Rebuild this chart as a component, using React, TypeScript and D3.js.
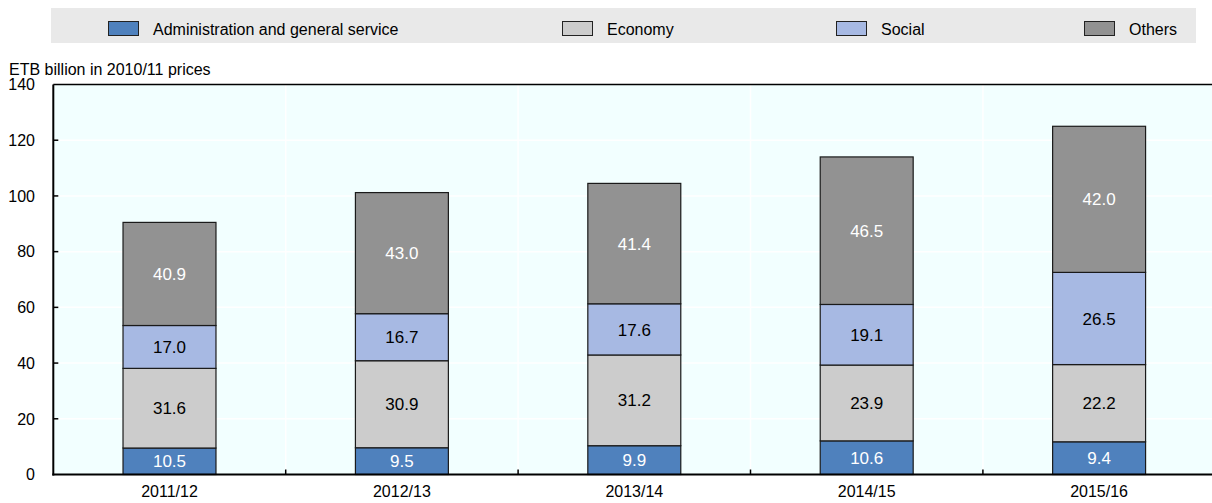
import React from "react";
import { scaleBand, scaleLinear, stack } from "d3";

const categories = ["2011/12", "2012/13", "2013/14", "2014/15", "2015/16"];
// total spending per year (bar height, ETB billion)
const totals = [90.5, 101.2, 104.5, 114.0, 125.0];
// shares (%) shown as labels inside segments
const admin = [10.5, 9.5, 9.9, 10.6, 9.4];
const economy = [31.6, 30.9, 31.2, 23.9, 22.2];
const social = [17.0, 16.7, 17.6, 19.1, 26.5];
const others = [40.9, 43.0, 41.4, 46.5, 42.0];
const yTicks = [0, 20, 40, 60, 80, 100, 120, 140];

const seriesNames = ["Administration and general service", "Economy", "Social", "Others"];
const seriesKeys = ["admin", "economy", "social", "others"];
const colors = ["#4f81bd", "#cccccc", "#a7b9e3", "#929292"];
const labelColors = ["#ffffff", "#000000", "#000000", "#ffffff"];
const legendX = [108, 562, 836, 1084];

const W = 1212;
const H = 503;
const plot = { left: 53.3, right: 1215.3, top: 84.5, bottom: 474.5 };
const font = "'Liberation Sans', Arial, sans-serif";

const shares = [admin, economy, social, others];

const rows = categories.map((c, i) => {
  const sum = shares.reduce((s, arr) => s + arr[i], 0);
  const row: any = { category: c };
  seriesKeys.forEach((k, j) => {
    row[k] = (shares[j][i] / sum) * totals[i];
  });
  return row;
});

export default function App() {
  const x = scaleBand<string>()
    .domain(categories)
    .range([plot.left, plot.right])
    .paddingInner(0.6)
    .paddingOuter(0.3);
  const y = scaleLinear().domain([0, 140]).range([plot.bottom, plot.top]);
  const step = x.step();
  const layers = stack<any>().keys(seriesKeys)(rows);

  return (
    <svg
      width={W}
      height={H}
      style={{ position: "absolute", left: 0, top: 0 }}
      fontFamily={font}
    >
      <rect x={0} y={0} width={W} height={H} fill="#ffffff" />

      {/* legend */}
      <rect x={51} y={8} width={1145} height={35} fill="#e9e9e9" />
      {seriesNames.map((name, i) => (
        <g key={name}>
          <rect
            x={legendX[i] + 0.5}
            y={21.5}
            width={30}
            height={14}
            fill={colors[i]}
            stroke="#222"
            strokeWidth={1}
          />
          <text x={legendX[i] + 45} y={35} fontSize={16} fill="#000">
            {name}
          </text>
        </g>
      ))}

      {/* axis title */}
      <text x={9} y={75} fontSize={16} fill="#000">
        ETB billion in 2010/11 prices
      </text>

      {/* plot background */}
      <rect
        x={plot.left}
        y={plot.top}
        width={plot.right - plot.left}
        height={plot.bottom - plot.top}
        fill="#f2ffff"
      />

      {/* gridlines */}
      {yTicks.slice(1, -1).map((t) => (
        <line
          key={t}
          x1={plot.left}
          x2={plot.right}
          y1={y(t)}
          y2={y(t)}
          stroke="#ffffff"
          strokeWidth={1.5}
        />
      ))}
      {categories.slice(1).map((c) => {
        const bx = (x(c) as number) - (step - x.bandwidth()) / 2;
        return (
          <line
            key={c}
            x1={bx}
            x2={bx}
            y1={plot.top}
            y2={plot.bottom}
            stroke="#ffffff"
            strokeWidth={1.5}
          />
        );
      })}

      {/* bars */}
      {layers.map((layer, j) => (
        <g key={layer.key}>
          {layer.map((d, i) => (
            <rect
              key={i}
              x={x(categories[i])}
              y={y(d[1])}
              width={x.bandwidth()}
              height={y(d[0]) - y(d[1])}
              fill={colors[j]}
              stroke="#1a1a1a"
              strokeWidth={1.2}
            />
          ))}
        </g>
      ))}

      {/* value labels */}
      {layers.map((layer, j) => (
        <g key={layer.key + "-lab"}>
          {layer.map((d, i) => (
            <text
              key={i}
              x={(x(categories[i]) as number) + x.bandwidth() / 2}
              y={(y(d[0]) + y(d[1])) / 2}
              dy="0.36em"
              textAnchor="middle"
              fontSize={17}
              fill={labelColors[j]}
            >
              {shares[j][i].toFixed(1)}
            </text>
          ))}
        </g>
      ))}

      {/* top border */}
      <line x1={plot.left} x2={W} y1={plot.top} y2={plot.top} stroke="#000" strokeWidth={1.5} />

      {/* y axis */}
      <line x1={plot.left} x2={plot.left} y1={plot.top} y2={plot.bottom + 1} stroke="#000" strokeWidth={2} />
      {yTicks.map((t) => (
        <g key={t}>
          {t > 0 && t < 140 && (
            <line x1={plot.left} x2={plot.left + 5} y1={y(t)} y2={y(t)} stroke="#000" strokeWidth={1.5} />
          )}
          <text x={35} y={y(t)} dy="0.36em" textAnchor="end" fontSize={16} fill="#000">
            {t}
          </text>
        </g>
      ))}

      {/* x axis */}
      <line x1={plot.left - 1} x2={W} y1={plot.bottom} y2={plot.bottom} stroke="#000" strokeWidth={2} />
      {categories.slice(1).map((c) => {
        const bx = (x(c) as number) - (step - x.bandwidth()) / 2;
        return (
          <line key={c} x1={bx} x2={bx} y1={plot.bottom} y2={plot.bottom - 5} stroke="#000" strokeWidth={1.5} />
        );
      })}
      {categories.map((c) => (
        <text
          key={c}
          x={(x(c) as number) + x.bandwidth() / 2}
          y={497}
          textAnchor="middle"
          fontSize={16}
          fill="#000"
        >
          {c}
        </text>
      ))}
    </svg>
  );
}
